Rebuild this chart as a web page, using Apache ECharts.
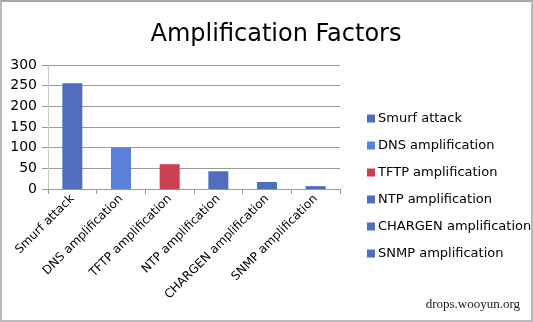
<!DOCTYPE html>
<html>
<head>
<meta charset="utf-8">
<script src="https://cdn.jsdelivr.net/npm/echarts@6/dist/echarts.min.js"></script>
<style>
	html, body { margin: 0; padding: 0; background: #fff; }
	#wrap { position: relative; width: 533px; height: 322px; }
	#chart { width: 533px; height: 322px; }
	#frame {
		position: absolute; left: 0; top: 0; width: 533px; height: 322px;
		box-sizing: border-box; border: 2px solid #b9b9b9; border-top-color: #a6a6a6;
		pointer-events: none;
	}
</style>
</head>
<body>
<div id="wrap">
	<div id="chart"></div>
	<div id="frame"></div>
</div>
<script>
// Data
const categories = [
	'Smurf attack',
	'DNS amplification',
	'TFTP amplification',
	'NTP amplification',
	'CHARGEN amplification',
	'SNMP amplification',
];
const factors = [256, 100, 60, 43, 17, 7];
const barColors = ['#4f6fbe', '#5a80da', '#c9404e', '#4f6fbe', '#4f6fbe', '#4f6fbe'];
const yTicks = { min: 0, max: 300, interval: 50 };

const chart = echarts.init(document.getElementById('chart'), undefined, { renderer: 'canvas' });

// One series per category so every bar gets its own legend entry
const series = categories.map((name, i) => ({
	name: name,
	type: 'bar',
	stack: 'all',
	barWidth: 20,
	itemStyle: { color: barColors[i] },
	data: categories.map((_, j) => (j === i ? factors[i] : '-')),
}));

chart.setOption({
	backgroundColor: '#fff',
	animation: false,
	title: [
		{
			text: 'Amplification Factors',
			left: 271,
			textAlign: 'center',
			top: 18,
			textStyle: { fontFamily: 'DejaVu Sans', fontSize: 24, fontWeight: 'normal', color: '#000' },
		},
		{
			text: 'drops.wooyun.org',
			right: 8,
			bottom: 6,
			textStyle: { fontFamily: 'Liberation Serif', fontSize: 13, fontWeight: 'normal', color: '#222' },
		},
	],
	legend: {
		orient: 'vertical',
		left: 362,
		top: 107,
		itemWidth: 8,
		itemHeight: 8,
		itemGap: 14,
		icon: 'rect',
		textStyle: { fontFamily: 'DejaVu Sans', fontSize: 13, color: '#000', padding: [0, 0, 0, -2] },
		data: categories,
	},
	grid: { left: 48, right: 193, top: 65, bottom: 133 },
	xAxis: {
		type: 'category',
		data: categories,
		axisLine: { lineStyle: { color: '#9a9a9a' } },
		axisTick: { show: true, length: 5, lineStyle: { color: '#9a9a9a' } },
		axisLabel: {
			rotate: 45,
			margin: 8,
			interval: 0,
			fontFamily: 'DejaVu Sans',
			fontSize: 12,
			color: '#000',
		},
	},
	yAxis: {
		type: 'value',
		min: yTicks.min,
		max: yTicks.max,
		interval: yTicks.interval,
		axisLine: { show: true, lineStyle: { color: '#c8c8c8' } },
		axisTick: { show: true, length: 6, lineStyle: { color: '#9a9a9a' } },
		splitLine: { lineStyle: { color: '#9a9a9a' } },
		axisLabel: { fontFamily: 'DejaVu Sans', fontSize: 14, color: '#000', margin: 11 },
	},
	series: series,
});
</script>
</body>
</html>
